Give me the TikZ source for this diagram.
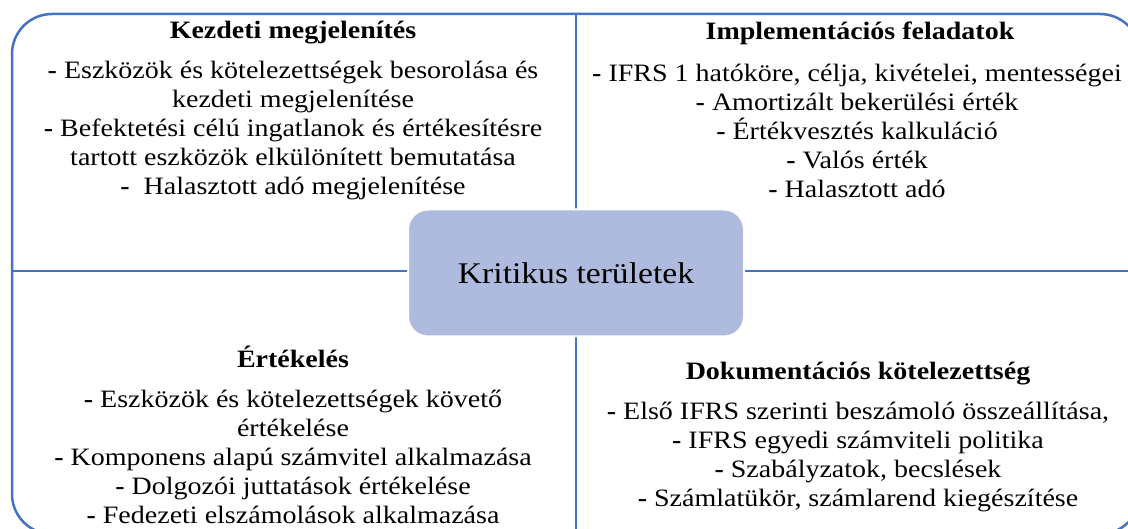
\documentclass[tikz,border=0pt]{standalone}
\usepackage{fontspec}
\setmainfont{Liberation Serif}[FakeStretch=1.12]
\usetikzlibrary{positioning}
\definecolor{frameblue}{RGB}{68,114,196}
\definecolor{hubfill}{RGB}{175,187,222}
\tikzset{frame/.style={draw=frameblue, line width=2.5pt}}
\tikzset{hub/.style={rounded corners=20pt, fill=hubfill, draw=white, line width=2pt, minimum width=336pt, minimum height=127pt, font=\fontsize{30}{34}\selectfont}}
\tikzset{head/.style={font=\bfseries\fontsize{25}{28}\selectfont, inner sep=0pt}}
\tikzset{items/.style={align=center, font=\fontsize{25}{29}\selectfont, inner sep=0pt}}
\newcommand{\dash}{\textbf{-}}

\begin{document}
\begin{tikzpicture}[x=1pt, y=-1pt]
\useasboundingbox (0,0) rectangle (1128,529);
\draw[frame, rounded corners=40pt] (12,14) rectangle (1140,534);
% dividers
\coordinate (top) at (576,14);
\coordinate (bottom) at (576,534);
\coordinate (left) at (12,271);
\coordinate (right) at (1140,271);
\draw[frame] (top)--(bottom) (left)--(right);
\node (crit) at (576,273) [hub] {Kritikus területek};
% quadrants
\node (kezd) at (293,33) [head] {Kezdeti megjelenítés};
\node (kezdi) at (293,131) [items] {\dash{} Eszközök és kötelezettségek besorolása és\\ kezdeti megjelenítése\\ \dash{} Befektetési célú ingatlanok és értékesítésre\\ tartott eszközök elkülönített bemutatása\\ \dash{}\ \ Halasztott adó megjelenítése};
\node (impl) at (860,33) [head] {Implementációs feladatok};
\node (impli) at (857,131) [items] {\dash{} IFRS 1 hatóköre, célja, kivételei, mentességei\\ \dash{} Amortizált bekerülési érték\\ \dash{} Értékvesztés kalkuláció\\ \dash{} Valós érték\\ \dash{} Halasztott adó};
\node (ert) at (293,357) [head] {Értékelés};
\node (erti) at (293,457) [items] {\dash{} Eszközök és kötelezettségek követő\\ értékelése\\ \dash{} Komponens alapú számvitel alkalmazása\\ \dash{} Dolgozói juttatások értékelése\\ \dash{} Fedezeti elszámolások alkalmazása};
\node (dok) at (858,374) [head] {Dokumentációs kötelezettség};
\node (doki) at (858,457.5) [items] {\dash{} Első IFRS szerinti beszámoló összeállítása,\\ \dash{} IFRS egyedi számviteli politika\\ \dash{} Szabályzatok, becslések\\ \dash{} Számlatükör, számlarend kiegészítése};
\end{tikzpicture}
\end{document}
